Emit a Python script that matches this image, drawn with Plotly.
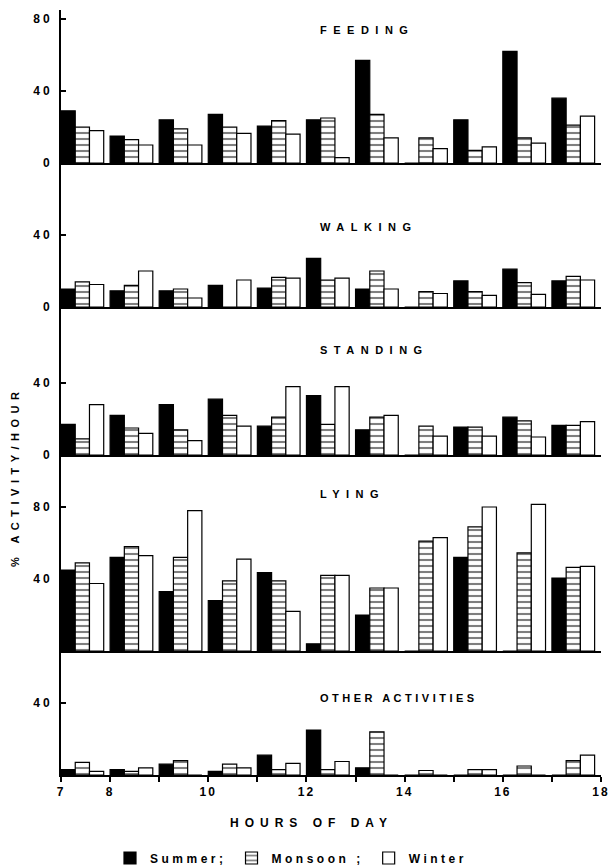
import plotly.graph_objects as go
from plotly.subplots import make_subplots

hours = [7, 8, 9, 10, 11, 12, 13, 14, 15, 16, 17]
x_tick_vals = [7, 8, 9, 10, 11, 12, 13, 14, 15, 16, 17, 18]
x_tick_text = ["7", "8", "", "10", "", "12", "", "14", "", "16", "", "18"]

panel_names = ["FEEDING", "WALKING", "STANDING", "LYING", "OTHER ACTIVITIES"]
season_names = ["Summer;", "Monsoon ;", "Winter"]

feeding_summer = [29, 15, 24, 27, 20.5, 24, 57, 0, 24, 62, 36]
feeding_monsoon = [20, 13, 19, 20, 23.5, 25, 27, 14, 7, 14, 21]
feeding_winter = [18, 10, 10, 16.5, 16, 3, 14, 8, 9, 11, 26]

walking_summer = [10, 9, 9, 12, 10.5, 27, 10, 0, 14.5, 21, 14.5]
walking_monsoon = [14, 12, 10, 0, 16.5, 15, 20, 8.5, 8.5, 13.5, 17]
walking_winter = [12.5, 20, 5, 15, 16, 16, 10, 7.5, 6.5, 7, 15]

standing_summer = [17, 22, 28, 31, 16, 33, 14, 0, 15.5, 21, 16.5]
standing_monsoon = [9, 15, 14, 22, 21, 17, 21, 16, 15.5, 19, 16.5]
standing_winter = [28, 12, 8, 16, 38, 38, 22, 10.5, 10.5, 10, 18.5]

lying_summer = [45, 52, 33, 28, 43.5, 4, 20, 0, 52, 0, 40.5]
lying_monsoon = [49, 58, 52, 39, 39, 42, 35, 61, 69, 54.5, 46.5]
lying_winter = [37.5, 53, 78, 51, 22, 42, 35, 63, 80, 81.5, 47]

other_summer = [3, 3, 6, 2, 11, 25, 4, 0, 0, 0, 0]
other_monsoon = [7, 2, 8, 6, 3, 3, 24, 2.5, 3, 5, 8]
other_winter = [2, 4, 0, 4, 6.5, 7.5, 0, 0, 3, 0, 11]

panels = [
    (feeding_summer, feeding_monsoon, feeding_winter),
    (walking_summer, walking_monsoon, walking_winter),
    (standing_summer, standing_monsoon, standing_winter),
    (lying_summer, lying_monsoon, lying_winter),
    (other_summer, other_monsoon, other_winter),
]

y_ranges = [[0, 85], [0, 80], [0, 82.2], [0, 108.9], [0, 68.9]]
y_ticks = [[0, 40, 80], [0, 40], [0, 40], [40, 80], [40]]
row_px = [153, 144, 148, 196, 124]

FONT = "Liberation Sans"


def spaced(text, px):
    return '<span style="letter-spacing:%spx">%s</span>' % (px, text)


fig = make_subplots(rows=5, cols=1, shared_xaxes=True, vertical_spacing=0,
                    row_heights=row_px)

bar_w = 0.29
offsets = [0.0, 0.29, 0.58]
for r, (s, m, w) in enumerate(panels, start=1):
    styles = [
        dict(color="black", line=dict(color="black", width=1.2)),
        dict(color="white", line=dict(color="black", width=1.2),
             pattern=dict(shape="-", fgcolor="black", bgcolor="white",
                          size=6, solidity=0.35)),
        dict(color="white", line=dict(color="black", width=1.2)),
    ]
    for k, vals in enumerate([s, m, w]):
        fig.add_trace(go.Bar(
            x=hours, y=vals, width=bar_w, offset=offsets[k],
            marker=styles[k], name=spaced(season_names[k], 3.5),
            legendgroup=season_names[k], showlegend=(r == 1),
        ), row=r, col=1)

total = sum(row_px)
top = 1.0
for r in range(1, 6):
    h = row_px[r - 1] / total
    dom = [max(0.0, top - h), top]
    top -= h
    ticktext = [spaced(str(v), 3) for v in y_ticks[r - 1]]
    fig.update_yaxes(row=r, col=1, domain=dom, range=y_ranges[r - 1],
                     tickvals=y_ticks[r - 1], ticktext=ticktext,
                     showline=True, linecolor="black", linewidth=2,
                     ticks="inside", ticklen=5, tickwidth=1.5, tickcolor="black",
                     showgrid=False, zeroline=False, fixedrange=True,
                     ticklabelstandoff=4,
                     tickfont=dict(family=FONT, size=12, color="black", weight="bold"))
    fig.update_xaxes(row=r, col=1, range=[7, 18], showline=True, linecolor="black",
                     linewidth=2, showgrid=False, zeroline=False,
                     tickvals=x_tick_vals,
                     ticktext=[spaced(t, 2) for t in x_tick_text],
                     ticks="outside" if r == 5 else "", ticklen=5, tickwidth=1.5,
                     tickcolor="black", showticklabels=(r == 5),
                     tickfont=dict(family=FONT, size=12, color="black", weight="bold"))

# panel titles
title_y_px = [30, 227, 350, 494, 698]
title_spacing = [6.5, 6.5, 6.5, 6.5, 3.5]
annotations = []
for name, ypx, sp in zip(panel_names, title_y_px, title_spacing):
    annotations.append(dict(
        text=spaced(name, sp), xref="paper", yref="paper",
        x=(318 - 61) / 540, y=(775 - ypx) / 765, xanchor="left", yanchor="middle",
        showarrow=False, font=dict(family=FONT, size=11, color="black", weight="bold")))

annotations.append(dict(
    text=spaced("HOURS OF DAY", 6), xref="paper", yref="paper",
    x=(311 - 61) / 540, y=(775 - 823) / 765, xanchor="center", yanchor="middle",
    showarrow=False, font=dict(family=FONT, size=12, color="black", weight="bold")))

annotations.append(dict(
    text=spaced("% ACTIVITY/HOUR", 5.5), xref="paper", yref="paper",
    x=(15 - 61) / 540, y=(775 - 477) / 765, xanchor="center", yanchor="middle",
    textangle=-90, showarrow=False,
    font=dict(family=FONT, size=11, color="black", weight="bold")))

fig.update_layout(
    width=612, height=867,
    margin=dict(l=61, r=11, t=10, b=92, autoexpand=False),
    paper_bgcolor="white", plot_bgcolor="white",
    barmode="overlay",
    annotations=annotations,
    showlegend=True,
    legend=dict(orientation="h", x=(291 - 61) / 540, y=(775 - 858) / 765,
                xanchor="center", yanchor="middle",
                font=dict(family=FONT, size=12, color="black", weight="bold"),
                itemwidth=30, tracegroupgap=0),
)

fig.write_html("out.html")
